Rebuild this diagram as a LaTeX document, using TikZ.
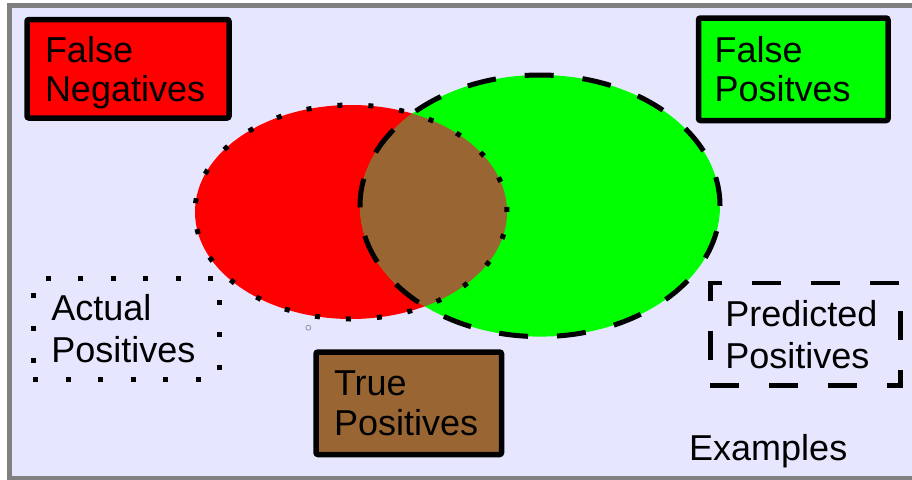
\documentclass[tikz,border=0pt]{standalone}
\usepackage{fontspec}
\setmainfont{Liberation Sans}
\usetikzlibrary{positioning}
\definecolor{Lavender}{HTML}{E6E6FF}
\definecolor{FrameGray}{HTML}{808080}
\definecolor{Handle}{HTML}{8A9AA6}
\definecolor{Red}{HTML}{FF0000}
\definecolor{Green}{HTML}{00FF00}
\definecolor{Brown}{HTML}{996633}

\begin{document}
\begin{tikzpicture}[x=1pt,y=-1pt,
    box/.style={draw=black,line width=5.5pt,rounded corners=2pt,inner xsep=16pt,
      inner ysep=0pt,align=left,font=\fontsize{36pt}{39pt}\selectfont},
    outline/.style={box,rounded corners=0pt,line width=5pt,
      font=\fontsize{36pt}{42pt}\selectfont},
    dots/.style={line width=5pt,dash pattern=on 5pt off 26pt},
    dashes/.style={line width=5pt,dash pattern=on 29pt off 29pt}
  ]
    \clip (0,0) rectangle (912,479);
    \draw[FrameGray,line width=5pt,fill=Lavender] (9.8,5) rectangle (930,478.5);
    % venn areas
    \fill[Red] (351,212) ellipse [x radius=156pt,y radius=107pt];
    \fill[Green] (540,205.8) ellipse [x radius=180pt,y radius=130.8pt];
    \begin{scope}
      \clip (351,212) ellipse [x radius=156pt,y radius=107pt];
      \fill[Brown] (540,205.8) ellipse [x radius=180pt,y radius=130.8pt];
    \end{scope}
    \draw[dots] (351,212) ellipse [x radius=156pt,y radius=107pt];
    \draw[dashes] (540,205.8) ellipse [x radius=180pt,y radius=130.8pt];
    \draw[Handle,line width=0.8pt] (308.3,327.7) circle [radius=2.5pt];
    % labels
    \node[box,fill=Red,inner xsep=18pt,text width=166pt,minimum height=98.5pt] (falseneg)
      at (128,68.75) {False\\Ne\smash{g}atives};
    \node[box,fill=Green,text width=157.5pt,minimum height=102.5pt] (falsepos)
      at (793.25,69.25) {False\\Positves};
    \node[box,fill=Brown,inner xsep=18pt,text width=149.5pt,minimum height=102.5pt,
      font=\fontsize{36pt}{40pt}\selectfont] (truepos)
      at (408.75,403.25) {True\\Positives};
    \node[outline,dash pattern=on 5pt off 27.5pt,inner xsep=18pt,text width=149.7pt,
      minimum height=101pt] (actualpos) at (126.2,328.5) {Actual\\Positives};
    \node[outline,line width=4.5pt,dash pattern=on 29pt off 30pt,inner xsep=15pt,
      text width=160.2pt,minimum height=102.9pt] (predpos)
      at (805.4,334.25) {Predicted\\Positives};
    \node[font=\fontsize{36pt}{39pt}\selectfont,inner sep=0pt,anchor=base west]
      (examples) at (689,460) {Examples};
  \end{tikzpicture}
\end{document}
